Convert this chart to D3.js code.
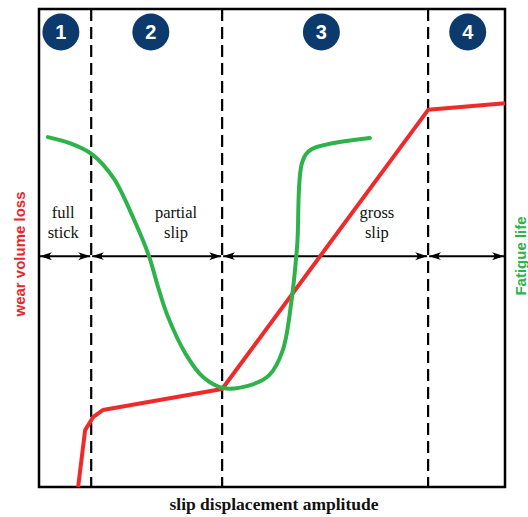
<!DOCTYPE html>
<html>
<head>
<meta charset="utf-8">
<script src="https://cdn.jsdelivr.net/npm/d3@7"></script>
<style>
  body { margin: 0; background: #fff; }
  svg { display: block; }
</style>
</head>
<body>
<div class="App"></div>
<script>
// regime boundaries on the slip axis (0..100)
const boundaries = [11.2, 39.3, 83.5];
const regimeNumbers = ["1", "2", "3", "4"];
const regimeCentres = [4.7, 24, 60.6, 92];
const regimeLabels = [
  {x: 5.2, lines: ["full", "stick"]},
  {x: 29.4, lines: ["partial", "slip"]},
  {x: 72.5, lines: ["gross", "slip"]}
];

// wear volume loss (red)
const wearX = [8.4, 9.9, 11.6, 13.7, 39.3, 83.5, 100];
const wearY = [0, 11.9, 14.6, 16.1, 20.5, 78.9, 80.3];

// fatigue life (green)
const fatigueX = [1.9, 6.7, 11.4, 16.0, 20.4, 23.6, 25.5, 27.6, 31.5, 35.2, 39.5, 45.0, 49.4, 52.3, 54.2, 55.4, 56.5, 58.4, 71.0];
const fatigueY = [73.2, 71.9, 69.6, 64.6, 55.9, 48.3, 42.0, 35.8, 27.8, 23.0, 20.7, 21.2, 23.4, 28.6, 39.1, 50.5, 68.0, 70.6, 73.0];

const arrowLevel = 48.3;

const width = 528, height = 517;
const plotLeft = 39, plotRight = 505, plotTop = 9, plotBottom = 487;

const x = d3.scaleLinear().domain([0, 100]).range([plotLeft, plotRight]);
const y = d3.scaleLinear().domain([0, 100]).range([plotBottom, plotTop]);

const svg = d3.select(".App").append("svg")
    .attr("width", width)
    .attr("height", height);

const defs = svg.append("defs");
defs.append("marker")
    .attr("id", "head")
    .attr("viewBox", "0 0 12 9")
    .attr("refX", 12).attr("refY", 4.5)
    .attr("markerWidth", 12).attr("markerHeight", 9)
    .attr("markerUnits", "userSpaceOnUse")
    .attr("orient", "auto-start-reverse")
  .append("path")
    .attr("d", "M0,0.5 Q5,4.5 0,8.5 L12,4.5 Z")
    .attr("fill", "#000");

// dashed regime boundaries
svg.append("g").selectAll("line")
  .data(boundaries)
  .enter().append("line")
    .attr("x1", d => x(d)).attr("x2", d => x(d))
    .attr("y1", y(100)).attr("y2", y(0))
    .attr("stroke", "#000")
    .attr("stroke-width", 2.2)
    .attr("stroke-dasharray", "12,6");

// double-headed arrows across each regime
const edges = [0].concat(boundaries, [100]);
const spans = d3.pairs(edges);
svg.append("g").selectAll("line")
  .data(spans)
  .enter().append("line")
    .attr("x1", d => x(d[0]) + 1).attr("x2", d => x(d[1]) - 1)
    .attr("y1", y(arrowLevel)).attr("y2", y(arrowLevel))
    .attr("stroke", "#000")
    .attr("stroke-width", 2)
    .attr("marker-start", "url(#head)")
    .attr("marker-end", "url(#head)");

// frame
svg.append("rect")
    .attr("x", plotLeft).attr("y", plotTop)
    .attr("width", plotRight - plotLeft).attr("height", plotBottom - plotTop)
    .attr("fill", "none")
    .attr("stroke", "#000")
    .attr("stroke-width", 2.5);

// regime labels
const lab = svg.append("g")
    .attr("font-family", "'Liberation Serif', 'Times New Roman', serif")
    .attr("font-size", 16.5)
    .attr("text-anchor", "middle")
    .attr("fill", "#111");
regimeLabels.forEach(function(r) {
  r.lines.forEach(function(t, i) {
    lab.append("text")
        .attr("x", x(r.x))
        .attr("y", 218 + i * 20)
        .text(t);
  });
});

const line = d3.line()
    .x(d => x(d[0]))
    .y(d => y(d[1]));

// wear volume loss
svg.append("path")
    .datum(d3.zip(wearX, wearY))
    .attr("d", line.curve(d3.curveLinear))
    .attr("fill", "none")
    .attr("stroke", "#ee2a2a")
    .attr("stroke-width", 4)
    .attr("stroke-linejoin", "round");

// fatigue life
svg.append("path")
    .datum(d3.zip(fatigueX, fatigueY))
    .attr("d", line.curve(d3.curveCatmullRom.alpha(0.5)))
    .attr("fill", "none")
    .attr("stroke", "#2eb24a")
    .attr("stroke-width", 4)
    .attr("stroke-linecap", "round");

// numbered regime badges
const badge = svg.append("g").selectAll("g")
  .data(regimeNumbers)
  .enter().append("g")
    .attr("transform", (d, i) => "translate(" + x(regimeCentres[i]) + ",32)");
badge.append("circle")
    .attr("r", 18.5)
    .attr("fill", "#0d3a6c");
badge.append("text")
    .attr("dy", "0.36em")
    .attr("text-anchor", "middle")
    .attr("font-family", "'Liberation Sans', Arial, sans-serif")
    .attr("font-weight", "bold")
    .attr("font-size", 20)
    .attr("fill", "#fff")
    .text(d => d);

// axis titles
svg.append("text")
    .attr("x", 274).attr("y", 510)
    .attr("text-anchor", "middle")
    .attr("font-family", "'Liberation Serif', 'Times New Roman', serif")
    .attr("font-weight", "bold")
    .attr("font-size", 17.5)
    .attr("fill", "#111")
    .text("slip displacement amplitude");

svg.append("text")
    .attr("transform", "translate(25,254)rotate(-90)")
    .attr("text-anchor", "middle")
    .attr("font-family", "'Liberation Sans', Arial, sans-serif")
    .attr("font-weight", "bold")
    .attr("font-size", 15)
    .attr("fill", "#e8262b")
    .text("wear volume loss");

svg.append("text")
    .attr("transform", "translate(526,256)rotate(-90)")
    .attr("text-anchor", "middle")
    .attr("font-family", "'Liberation Sans', Arial, sans-serif")
    .attr("font-weight", "bold")
    .attr("font-size", 15)
    .attr("fill", "#2eb24a")
    .text("Fatigue life");
</script>
</body>
</html>
